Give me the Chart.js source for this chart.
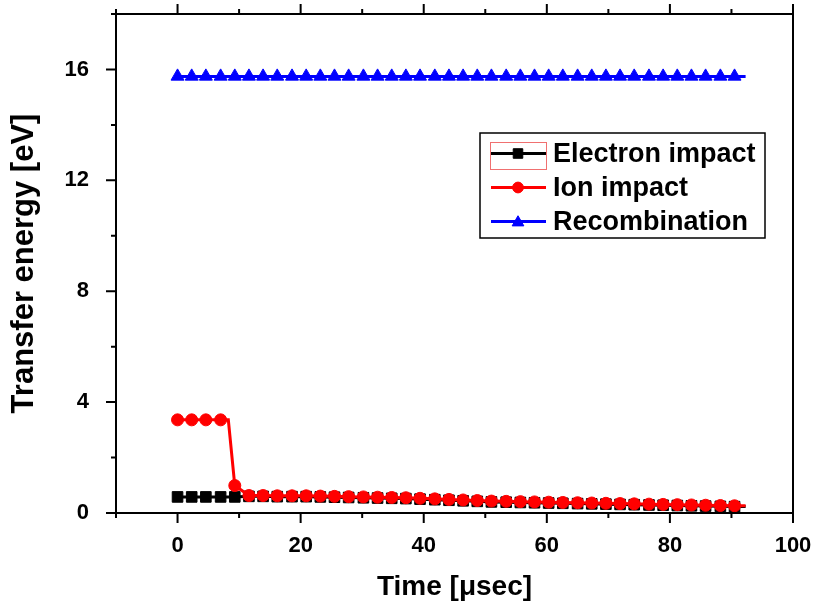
<!DOCTYPE html>
<html><head><meta charset="utf-8">
<script src="https://cdn.jsdelivr.net/npm/chart.js@4.4.1/dist/chart.umd.min.js"></script>
<style>html,body{margin:0;padding:0;background:#fff;}#wrap{width:815px;height:606px;}</style>
</head><body><div id="wrap"><canvas id="c" width="815" height="606"></canvas></div>
<script>
// ---- data ----
const seriesNames = ['Electron impact', 'Ion impact', 'Recombination'];
const time = [0, 2.3, 4.6, 7.0, 9.3, 11.6, 13.9, 16.2, 18.6, 20.9,
  23.2, 25.5, 27.8, 30.2, 32.5, 34.8, 37.1, 39.4, 41.8, 44.1,
  46.4, 48.7, 51.0, 53.4, 55.7, 58.0, 60.3, 62.6, 65.0, 67.3,
  69.6, 71.9, 74.2, 76.6, 78.9, 81.2, 83.5, 85.8, 88.2, 90.5];
const electron = [0.58, 0.58, 0.58, 0.58, 0.58, 0.60, 0.60, 0.59, 0.59, 0.59,
  0.58, 0.57, 0.56, 0.55, 0.54, 0.53, 0.52, 0.50, 0.48, 0.46,
  0.44, 0.42, 0.40, 0.39, 0.38, 0.37, 0.36, 0.35, 0.34, 0.33,
  0.32, 0.31, 0.30, 0.29, 0.28, 0.27, 0.26, 0.25, 0.24, 0.23];
const ion = [3.36, 3.36, 3.36, 3.36, 0.99, 0.63, 0.63, 0.62, 0.62, 0.62,
  0.61, 0.60, 0.59, 0.58, 0.57, 0.56, 0.55, 0.53, 0.51, 0.49,
  0.47, 0.45, 0.43, 0.42, 0.41, 0.40, 0.39, 0.38, 0.37, 0.36,
  0.35, 0.34, 0.33, 0.32, 0.31, 0.30, 0.29, 0.28, 0.27, 0.26];
const recombination = [15.75, 15.75, 15.75, 15.75, 15.75, 15.75, 15.75, 15.75, 15.75, 15.75,
  15.75, 15.75, 15.75, 15.75, 15.75, 15.75, 15.75, 15.75, 15.75, 15.75,
  15.75, 15.75, 15.75, 15.75, 15.75, 15.75, 15.75, 15.75, 15.75, 15.75,
  15.75, 15.75, 15.75, 15.75, 15.75, 15.75, 15.75, 15.75, 15.75, 15.75];
// unmarked line points (knee before the ion drop, and the line end after the last marker)
const ionKnee = [8.25, 3.36];
const endTime = 92.3;
const electronEnd = 0.23;
const ionEnd = 0.26;
const recombinationEnd = 15.75;
const xTickLabels = [0, 20, 40, 60, 80, 100];
const xMinorTicks = [-10, 10, 30, 50, 70, 90];
const yTickLabels = [0, 4, 8, 12, 16];
const yMinorTicks = [2, 6, 10, 14, 18];

// ---- build points ----
function pts(xs, ys) { return xs.map((x, i) => ({ x: x, y: ys[i], m: true })); }
const electronPts = pts(time, electron).concat([{ x: endTime, y: electronEnd, m: false }]);
const ionPts = pts(time, ion);
ionPts.splice(4, 0, { x: ionKnee[0], y: ionKnee[1], m: false });
ionPts.push({ x: endTime, y: ionEnd, m: false });
const recPts = pts(time, recombination).concat([{ x: endTime, y: recombinationEnd, m: false }]);

const markerR = { rect: 7.5, circle: 6, triangle: 7.5 };
function mk(label, data, color, style, order) {
  return {
    label: label, data: data, showLine: true, borderColor: color, backgroundColor: color,
    borderWidth: 3, tension: 0, pointStyle: style, order: order,
    pointRadius: c => (c.raw && c.raw.m ? markerR[style] : 0),
    pointBorderColor: color, pointBackgroundColor: color, pointBorderWidth: 1
  };
}

const FONT = "'Liberation Sans', Arial, sans-serif";

function drawMarker(ctx, style, x, y, r) {
  ctx.beginPath();
  if (style === 'circle') { ctx.arc(x, y, r, 0, Math.PI * 2); }
  else if (style === 'rect') { const s = r * Math.SQRT1_2; ctx.rect(x - s, y - s, 2 * s, 2 * s); }
  else { const w = r * Math.sqrt(3) / 2; ctx.moveTo(x, y - r); ctx.lineTo(x + w, y + r / 2); ctx.lineTo(x - w, y + r / 2); ctx.closePath(); }
  ctx.fill(); ctx.stroke();
}

const axesPlugin = {
  id: 'axesFrame',
  afterDraw(chart) {
    const { ctx, chartArea: a, scales: { x, y } } = chart;
    ctx.save();
    ctx.strokeStyle = '#000';
    ctx.lineWidth = 2;
    ctx.strokeRect(a.left, a.top, a.right - a.left, a.bottom - a.top);
    ctx.beginPath();
    const xt = (vals, len) => vals.forEach(v => {
      const p = x.getPixelForValue(v);
      ctx.moveTo(p, a.bottom); ctx.lineTo(p, a.bottom + len);
      ctx.moveTo(p, a.top); ctx.lineTo(p, a.top - len);
    });
    const yt = (vals, len) => vals.forEach(v => {
      const p = y.getPixelForValue(v);
      ctx.moveTo(a.left, p); ctx.lineTo(a.left - len, p);
    });
    xt(xTickLabels, 10); xt(xMinorTicks, 5);
    yt(yTickLabels, 10); yt(yMinorTicks, 5);
    ctx.stroke();
    ctx.restore();
  }
};

const legendPlugin = {
  id: 'boxLegend',
  afterDraw(chart) {
    const ctx = chart.ctx;
    ctx.save();
    ctx.fillStyle = '#fff';
    ctx.fillRect(480, 133, 285, 105);
    ctx.strokeStyle = '#000'; ctx.lineWidth = 1.5;
    ctx.strokeRect(480, 133, 285, 105);
    ctx.strokeStyle = '#f07070'; ctx.lineWidth = 1;
    ctx.strokeRect(490.5, 142.5, 56, 27);
    chart.data.datasets.forEach((ds, i) => {
      const yy = 153.5 + i * 34;
      ctx.strokeStyle = ds.borderColor; ctx.fillStyle = ds.borderColor; ctx.lineWidth = 3;
      ctx.beginPath(); ctx.moveTo(491, yy); ctx.lineTo(546, yy); ctx.stroke();
      ctx.lineWidth = 1;
      drawMarker(ctx, ds.pointStyle, 518, yy + (ds.pointStyle === 'triangle' ? 1 : 0), markerR[ds.pointStyle] * 0.9);
      ctx.fillStyle = '#000';
      ctx.font = "bold 27px " + FONT;
      ctx.textBaseline = 'middle'; ctx.textAlign = 'left';
      ctx.fillText(ds.label, 553, yy + 1);
    });
    ctx.restore();
  }
};

new Chart(document.getElementById('c'), {
  type: 'scatter',
  data: {
    datasets: [
      mk(seriesNames[0], electronPts, '#000000', 'rect', 2),
      mk(seriesNames[1], ionPts, '#ff0000', 'circle', 1),
      mk(seriesNames[2], recPts, '#0000ff', 'triangle', 0)
    ]
  },
  options: {
    responsive: false, animation: false, devicePixelRatio: 1, events: [],
    layout: { padding: { top: 14, right: 22, left: 0, bottom: 0 } },
    plugins: { legend: { display: false }, tooltip: { enabled: false } },
    scales: {
      x: {
        type: 'linear', min: -10, max: 100,
        afterBuildTicks: s => { s.ticks = xTickLabels.map(v => ({ value: v })); },
        afterFit: s => { s.height = 93; s.paddingLeft = 0; s.paddingRight = 0; },
        grid: { display: false }, border: { display: false },
        ticks: { color: '#000', padding: 12, maxRotation: 0, autoSkip: false, font: { family: FONT, size: 22, weight: 'bold' } },
        title: { display: true, text: 'Time [μsec]', color: '#000', padding: { top: 0, bottom: 2 }, font: { family: FONT, size: 28, weight: 'bold' } }
      },
      y: {
        type: 'linear', min: 0, max: 18,
        afterBuildTicks: s => { s.ticks = yTickLabels.map(v => ({ value: v })); },
        afterFit: s => { s.width = 116; s.paddingTop = 0; s.paddingBottom = 0; },
        grid: { display: false }, border: { display: false },
        ticks: { color: '#000', padding: 19, autoSkip: false, font: { family: FONT, size: 22, weight: 'bold' } },
        title: { display: true, text: 'Transfer energy [eV]', color: '#000', padding: { top: 6, bottom: 0 }, font: { family: FONT, size: 31, weight: 'bold' } }
      }
    }
  },
  plugins: [axesPlugin, legendPlugin]
});
</script>
</body></html>
